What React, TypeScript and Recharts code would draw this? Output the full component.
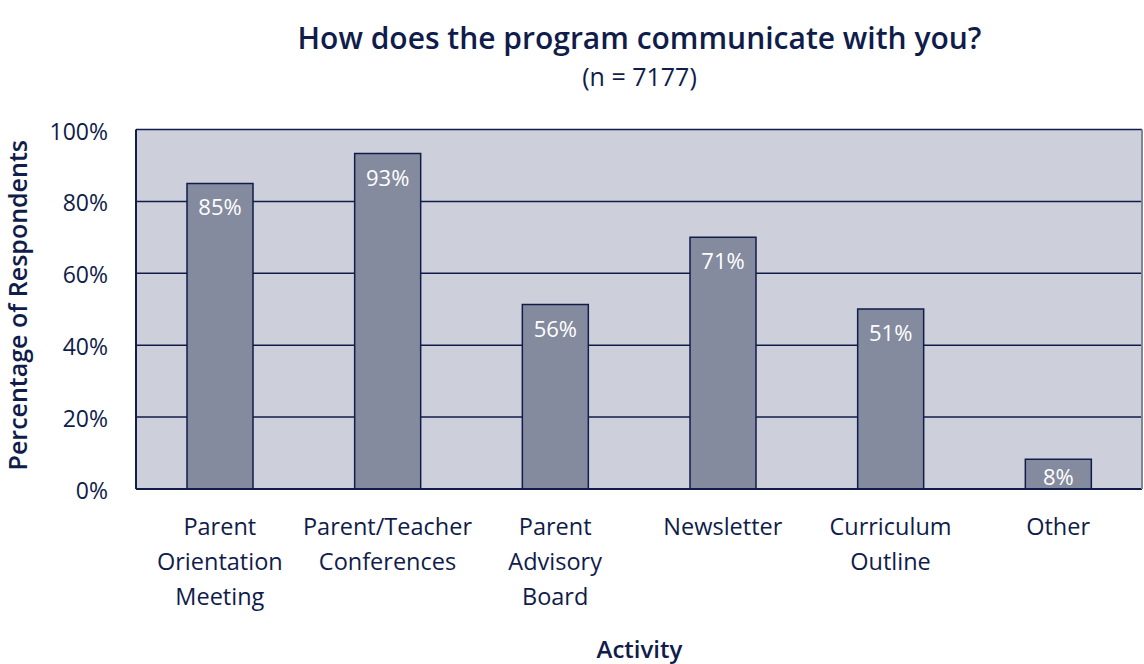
import React from "react";
import { BarChart, Bar, XAxis, YAxis, CartesianGrid, LabelList } from "recharts";

const categories = [
  "Parent\nOrientation\nMeeting",
  "Parent/Teacher\nConferences",
  "Parent\nAdvisory\nBoard",
  "Newsletter",
  "Curriculum\nOutline",
  "Other",
];
const barValues = [85, 93.3, 51.3, 70, 50.1, 8.3];
const barLabels = ["85%", "93%", "56%", "71%", "51%", "8%"];
const yTicks = [0, 20, 40, 60, 80, 100];

const NAVY = "#101c4a";
const BG = "#cdd0da";
const BAR = "#848b9f";
const FONT = "'Open Sans', sans-serif";

const data = categories.map((c, i) => ({ name: c, value: barValues[i], label: barLabels[i] }));

const XTick = (props: any) => {
  const { x, y, payload } = props;
  const lines = String(payload.value).split("\n");
  return (
    <g>
      {lines.map((l: string, i: number) => (
        <text
          key={i}
          x={x}
          y={y + 29 + i * 35}
          textAnchor="middle"
          dominantBaseline="central"
          fill={NAVY}
          fontSize={23.5}
          fontFamily={FONT}
        >
          {l}
        </text>
      ))}
    </g>
  );
};

const YTick = (props: any) => {
  const { x, y, payload } = props;
  return (
    <text x={x} y={y + 1} textAnchor="end" dominantBaseline="central" fill={NAVY} fontSize={23} fontFamily={FONT}>
      {payload.value + "%"}
    </text>
  );
};

const BarLabel = (props: any) => {
  const { x, y, width, height, value } = props;
  const cy = y + Math.min(23, height / 2 + 2);
  return (
    <text
      x={x + width / 2}
      y={cy}
      textAnchor="middle"
      dominantBaseline="central"
      fill="#ffffff"
      fontSize={22}
      fontFamily={FONT}
    >
      {value}
    </text>
  );
};

export default function App() {
  return (
    <div style={{ position: "absolute", left: 0, top: 0, width: 1144, height: 664, background: "#fff", fontFamily: FONT, overflow: "hidden" }}>
      <div style={{ position: "absolute", left: 136, width: 1007, top: 17, textAlign: "center", fontSize: 30, fontWeight: 600, color: NAVY, lineHeight: "41px" }}>
        How does the program communicate with you?
      </div>
      <div style={{ position: "absolute", left: 136, width: 1007, top: 59, textAlign: "center", fontSize: 25, color: NAVY, lineHeight: "34px" }}>
        (n = 7177)
      </div>
      <div style={{ position: "absolute", left: 136, width: 1007, top: 636, textAlign: "center", fontSize: 24, fontWeight: 600, color: NAVY, lineHeight: "26px" }}>
        Activity
      </div>
      <BarChart
        width={1144}
        height={664}
        data={data}
        margin={{ top: 129.5, right: 1, left: 0, bottom: 0 }}
        barSize={66}
      >
        <CartesianGrid vertical={false} fill={BG} stroke={NAVY} strokeWidth={1.5} fillOpacity={1} />
        <XAxis
          dataKey="name"
          tick={<XTick />}
          tickLine={false}
          axisLine={{ stroke: NAVY, strokeWidth: 2 }}
          interval={0}
          height={175}
        />
        <YAxis
          width={136}
          domain={[0, 100]}
          ticks={yTicks}
          tick={<YTick />}
          tickLine={false}
          tickMargin={22}
          axisLine={{ stroke: NAVY, strokeWidth: 2 }}
          label={{
            content: (p: any) => {
              const vb = p.viewBox || {};
              const cy = (vb.y || 0) + (vb.height || 0) / 2 - 4;
              return (
                <text
                  x={17}
                  y={cy}
                  transform={`rotate(-90, 17, ${cy})`}
                  textAnchor="middle"
                  dominantBaseline="central"
                  fill={NAVY}
                  fontSize={25}
                  fontWeight={600}
                  fontFamily={FONT}
                >
                  Percentage of Respondents
                </text>
              );
            },
          }}
        />
        <YAxis
          yAxisId="right"
          orientation="right"
          width={1}
          domain={[0, 100]}
          tick={false}
          tickLine={false}
          axisLine={{ stroke: "#7f8599", strokeWidth: 2 }}
        />
        <Bar dataKey="value" fill={BAR} stroke={NAVY} strokeWidth={1.5} isAnimationActive={false}>
          <LabelList dataKey="label" content={<BarLabel />} />
        </Bar>
      </BarChart>
    </div>
  );
}
